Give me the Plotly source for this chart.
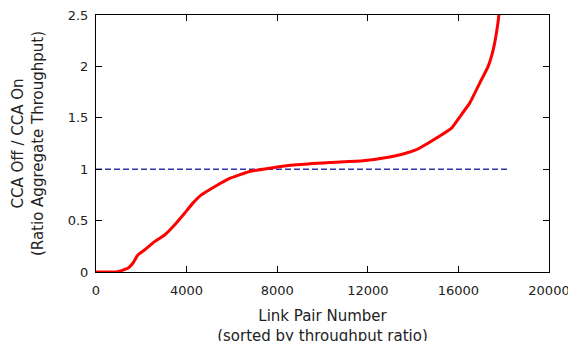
import plotly.graph_objects as go

# sorted link-pair index vs throughput ratio
pair_number = [0, 500, 964, 1405, 1626, 1847, 2143, 2585, 3027, 3469, 3911, 4277, 4649, 5236,
               5950, 6783, 7667, 8847, 10318, 11790, 12970, 13600, 14149, 14295, 15033, 15696,
               16063, 16505, 16947, 17314, 17535, 17682, 17786, 17850]
ratio = [0.0, 0.0, 0.003, 0.036, 0.085, 0.166, 0.214, 0.295, 0.36, 0.458, 0.572, 0.67, 0.75, 0.83,
         0.915, 0.978, 1.01, 1.043, 1.065, 1.082, 1.118, 1.15, 1.19, 1.206, 1.303, 1.40,
         1.51, 1.645, 1.84, 2.00, 2.16, 2.33, 2.5, 2.8]

ref_x = [0, 18200]
ref_y = [1, 1]

x_ticks = [0, 4000, 8000, 12000, 16000, 20000]
y_ticks = [0, 0.5, 1, 1.5, 2, 2.5]
y_tick_text = ["0", "0.5", "1", "1.5", "2", "2.5"]

fig = go.Figure()
fig.add_trace(go.Scatter(x=ref_x, y=ref_y, mode="lines",
                         line=dict(color="#3333aa", width=1.5, dash="6px,3px"),
                         showlegend=False))
fig.add_trace(go.Scatter(x=pair_number, y=ratio, mode="lines",
                         line=dict(color="#ff0000", width=3, shape="spline", smoothing=0.4),
                         showlegend=False))

title_font = dict(family="DejaVu Sans", size=15, color="#222")
tick_font = dict(family="DejaVu Sans", size=13, color="#222")
axis_common = dict(showline=True, linecolor="black", linewidth=1, mirror="ticks",
                   ticks="inside", ticklen=6, tickcolor="black", showgrid=False,
                   zeroline=False, tickfont=tick_font, automargin=False,
                   ticklabeloverflow="allow")
fig.update_xaxes(range=[0, 20000], tickvals=x_ticks, ticktext=[str(v) for v in x_ticks],
                 ticklabelstandoff=6,
                 title=dict(text="Link Pair Number<br>(sorted by throughput ratio)", font=title_font, standoff=20),
                 **axis_common)
fig.update_yaxes(range=[0, 2.5], tickvals=y_ticks, ticktext=y_tick_text,
                 ticklabelstandoff=4,
                 title=dict(text="CCA Off / CCA On<br>(Ratio Aggregate Throughput)", font=title_font, standoff=20),
                 **axis_common)
# page body has a default 8px margin, so the figure is inset to compensate
fig.update_layout(width=568, height=337, margin=dict(l=88, r=27, t=7, b=73),
                  plot_bgcolor="white", paper_bgcolor="white", font=title_font)
fig.write_html("out.html")
